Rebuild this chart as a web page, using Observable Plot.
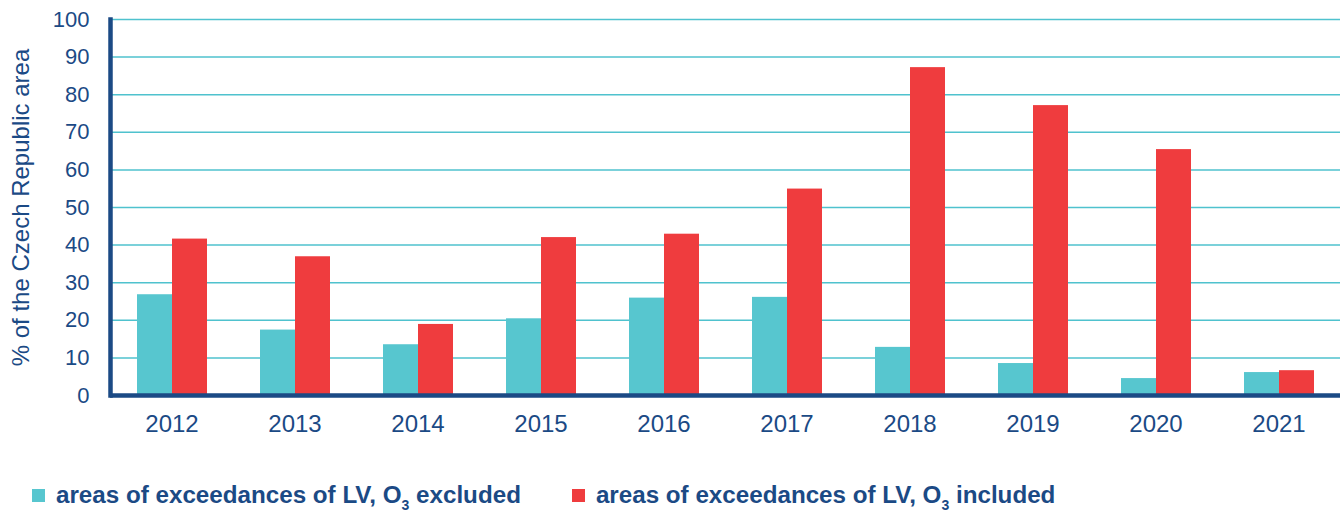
<!DOCTYPE html>
<html>
<head>
<meta charset="utf-8">
<script src="https://cdn.jsdelivr.net/npm/d3@7"></script>
<script src="https://cdn.jsdelivr.net/npm/@observablehq/plot@0.6"></script>
<style>
  html, body { margin: 0; padding: 0; background: #fff; }
  body { width: 1344px; height: 511px; overflow: hidden; font-family: "Liberation Sans", Arial, sans-serif; }
  #legend { display: flex; align-items: center; height: 40px; margin-top: 25px; padding-left: 32px;
    font-weight: bold; font-size: 24.2px; color: #1B4A85; }
  .item { display: flex; align-items: center; margin-right: 51px; }
  .sw { width: 13px; height: 13px; margin-right: 11px; display: inline-block; }
  sub { font-size: 14px; vertical-align: -7px; line-height: 0; }
</style>
</head>
<body>
<div id="chart"></div>
<div id="legend"></div>
<script>
const years = ["2012","2013","2014","2015","2016","2017","2018","2019","2020","2021"];
const excluded = [26.8, 17.4, 13.5, 20.4, 25.9, 26.1, 12.8, 8.5, 4.5, 6.1];
const included = [41.6, 36.9, 18.9, 42.0, 42.9, 54.9, 87.2, 77.1, 65.4, 6.6];
const seriesNames = ["areas of exceedances of LV, O3 excluded", "areas of exceedances of LV, O3 included"];
const seriesColors = ["#57C6CF", "#EF3C3E"];
const yTicks = [0,10,20,30,40,50,60,70,80,90,100];

const data = [];
years.forEach((yr, i) => {
  data.push({year: yr, series: seriesNames[0], value: excluded[i]});
  data.push({year: yr, series: seriesNames[1], value: included[i]});
});

const ink = "#1B4A85";
const chart = Plot.plot({
  width: 1344,
  height: 450,
  marginLeft: 110,
  marginRight: 4,
  marginTop: 19,
  marginBottom: 55,
  style: {fontFamily: "Liberation Sans, Arial, sans-serif", fontSize: "22px", color: ink, background: "white"},
  fx: {domain: years, padding: 0, axis: null},
  x: {domain: seriesNames, paddingInner: 0, paddingOuter: 0.757, axis: null},
  y: {domain: [0, 100], axis: null},
  color: {domain: seriesNames, range: seriesColors},
  marks: [
    Plot.ruleY(yTicks.slice(1), {stroke: "#4FC2CE", strokeWidth: 1.5}),
    Plot.barY(data, {fx: "year", x: "series", y: "value", fill: "series"}),
    Plot.ruleY([0], {stroke: ink, strokeWidth: 4.5}),
    Plot.frame({anchor: "left", facetAnchor: "left", stroke: ink, strokeWidth: 4.5}),
    Plot.axisY({ticks: yTicks, tickSize: 0, tickPadding: 21, fontSize: 22, label: null}),
    Plot.axisY({ticks: [], label: "% of the Czech Republic area", labelAnchor: "center", labelOffset: 99,
      labelArrow: "none", fontSize: 24}),
    Plot.axisFx({anchor: "bottom", tickSize: 0, tickPadding: 19, fontSize: 24, label: null})
  ]
});
document.getElementById("chart").appendChild(chart);

const legend = document.getElementById("legend");
seriesNames.forEach((name, i) => {
  const item = document.createElement("span");
  item.className = "item";
  const sw = document.createElement("span");
  sw.className = "sw";
  sw.style.background = seriesColors[i];
  item.appendChild(sw);
  const t = document.createElement("span");
  t.innerHTML = name.replace("O3", "O<sub>3</sub>");
  item.appendChild(t);
  legend.appendChild(item);
});
</script>
</body>
</html>
